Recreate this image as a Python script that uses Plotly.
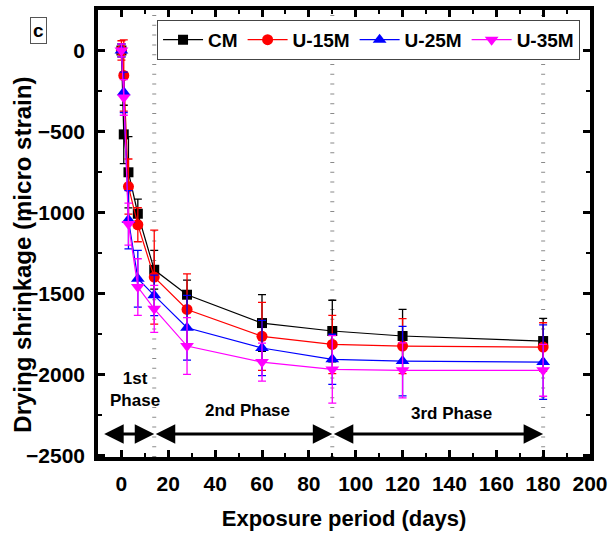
import plotly.graph_objects as go

days = [0, 1, 3, 7, 14, 28, 60, 90, 120, 180]
cm = [0, -518, -752, -1008, -1354, -1508, -1683, -1732, -1763, -1794]
cm_err = [40, 180, 220, 90, 120, 90, 175, 190, 165, 140]
u15 = [0, -154, -840, -1076, -1399, -1599, -1765, -1815, -1825, -1831]
u15_err = [60, 220, 170, 105, 290, 220, 210, 180, 170, 150]
u25 = [0, -258, -1045, -1409, -1512, -1712, -1837, -1907, -1918, -1924]
u25_err = [40, 125, 180, 175, 125, 200, 170, 155, 215, 230]
u35 = [0, -290, -1072, -1461, -1595, -1825, -1924, -1969, -1975, -1975]
u35_err = [40, 110, 130, 175, 145, 175, 117, 208, 170, 160]

series_names = ["CM", "U-15M", "U-25M", "U-35M"]
series_vals = [cm, u15, u25, u35]
series_errs = [cm_err, u15_err, u25_err, u35_err]
colors = ["#000000", "#FF0000", "#0000FF", "#FF00FF"]
symbols = ["square", "circle", "triangle-up", "triangle-down"]
sizes = [10, 11, 12, 12]

phase_bounds = [14, 90, 180]
phase_arrows = [(-8, 14), (14, 90), (90, 180)]
arrow_y = -2368
phase_labels = [("1st<br>Phase", 6, -2095), ("2nd Phase", 54, -2222), ("3rd Phase", 141, -2241)]

x_ticks = list(range(0, 201, 20))
y_ticks = [0, -500, -1000, -1500, -2000, -2500]

FONT = "Arial, Liberation Sans, sans-serif"

fig = go.Figure()

for name, vals, errs, col, sym, sz in zip(series_names, series_vals, series_errs, colors, symbols, sizes):
    fig.add_trace(go.Scatter(
        x=days, y=vals, name=name, mode="lines+markers",
        line=dict(color=col, width=1.2),
        marker=dict(symbol=sym, size=sz, color=col, line=dict(width=0)),
        error_y=dict(type="data", array=errs, visible=True, color=col, thickness=1.3, width=4),
    ))

# phase boundary lines (gray dashed ticks)
for b in phase_bounds:
    fig.add_shape(type="line", xref="x", yref="paper", x0=b, x1=b, y0=0, y1=1,
                  line=dict(color="#8a8a8a", width=4, dash="1px,8.8px"), layer="below")

# phase arrows
for x0, x1 in phase_arrows:
    fig.add_annotation(x=x1, y=arrow_y, ax=x0, ay=arrow_y, xref="x", yref="y", axref="x", ayref="y",
                       showarrow=True, arrowhead=2, startarrowhead=2, arrowside="end+start",
                       arrowsize=1.3, startarrowsize=1.3, arrowwidth=3, arrowcolor="black", text="")

for txt, xx, yy in phase_labels:
    fig.add_annotation(x=xx, y=yy, xref="x", yref="y", text=txt, showarrow=False,
                       font=dict(family=FONT, size=17, color="black", weight="bold"))

# panel label
fig.add_annotation(x=-0.12, y=0.955, xref="paper", yref="paper", text="c", showarrow=False,
                   xanchor="center", yanchor="middle",
                   font=dict(family=FONT, size=19, color="black", weight="bold"),
                   bordercolor="#555", borderwidth=1, borderpad=2, bgcolor="white")

# y axis title
fig.add_annotation(x=-0.153, y=0.452, xref="paper", yref="paper",
                   xanchor="center", yanchor="middle",
                   text="Drying shrinkage (micro strain)", textangle=-90, showarrow=False,
                   font=dict(family=FONT, size=24, color="black", weight="bold"))

axis_common = dict(
    showline=True, linecolor="black", linewidth=3.5, mirror="allticks",
    ticks="inside", ticklen=7, tickwidth=2.5, tickcolor="black",
    showgrid=False, zeroline=False,
    tickfont=dict(family=FONT, size=21, color="black", weight="bold"),
)

fig.update_xaxes(
    range=[-10, 200], tickvals=x_ticks,
    minor=dict(ticks="inside", ticklen=4, tickwidth=2, tickcolor="black", dtick=10, tick0=0),
    title=dict(text="Exposure period (days)", standoff=18,
               font=dict(family=FONT, size=22, color="black", weight="bold")),
    ticklabelstandoff=5,
    **axis_common,
)
fig.update_yaxes(
    range=[-2510, 250], tickvals=y_ticks,
    minor=dict(ticks="inside", ticklen=4, tickwidth=2, tickcolor="black", dtick=250, tick0=0),
    ticklabelstandoff=5,
    **axis_common,
)

fig.update_layout(
    width=615, height=537,
    margin=dict(l=98, r=25, t=10, b=80, autoexpand=False),
    plot_bgcolor="white", paper_bgcolor="white",
    showlegend=True,
    legend=dict(orientation="h", x=0.12, y=0.978, xanchor="left", yanchor="top",
                bordercolor="#444", borderwidth=1, bgcolor="white",
                font=dict(family=FONT, size=19, color="black", weight="bold"),
                itemwidth=40, tracegroupgap=0),
)

fig.write_html("out.html")
